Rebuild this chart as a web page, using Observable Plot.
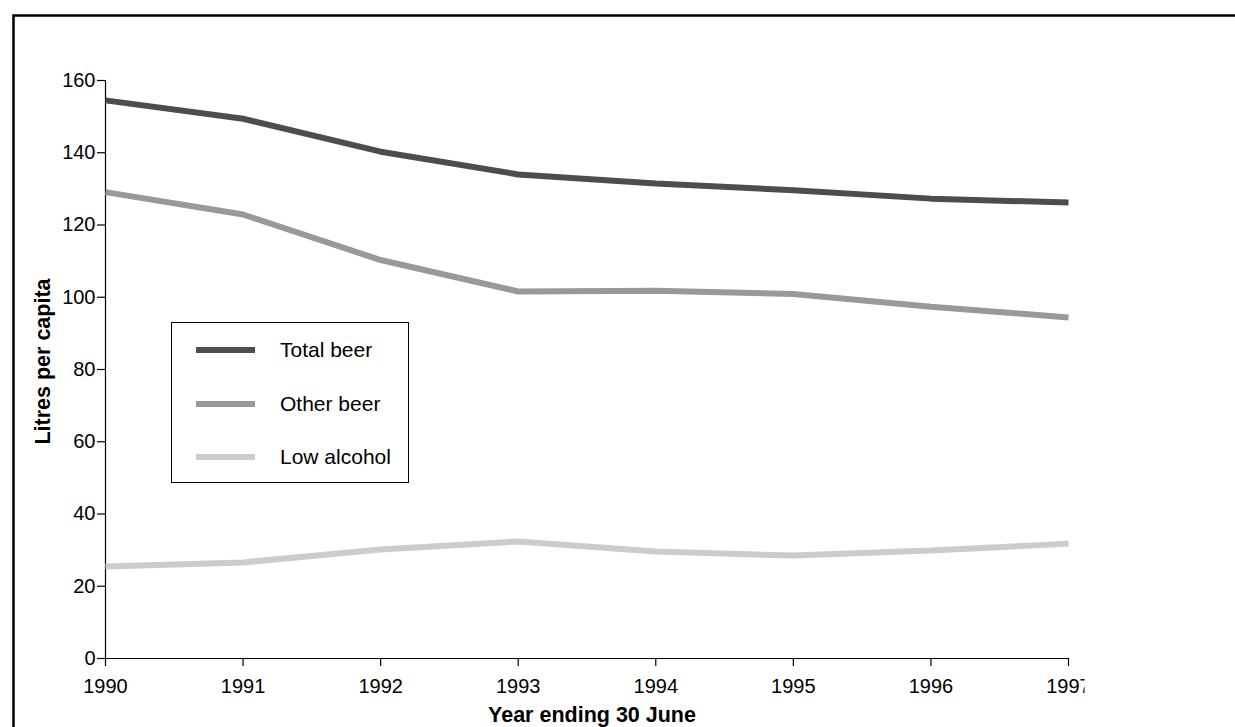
<!DOCTYPE html>
<html>
<head>
<meta charset="utf-8">
<script src="https://cdn.jsdelivr.net/npm/d3@7"></script>
<script src="https://cdn.jsdelivr.net/npm/@observablehq/plot@0.6"></script>
<style>
  html, body { margin: 0; padding: 0; background: #fff; }
  #chart { width: 1235px; height: 727px; overflow: hidden; }
</style>
</head>
<body>
<div id="chart"></div>
<script>
const years = [1990, 1991, 1992, 1993, 1994, 1995, 1996, 1997];
const seriesNames = ["Total beer", "Other beer", "Low alcohol"];
const seriesColors = ["#4d4d4d", "#999999", "#cccccc"];
const totalBeer = [154.5, 149.4, 140.3, 134.0, 131.5, 129.6, 127.3, 126.2];
const otherBeer = [129.1, 122.9, 110.3, 101.6, 101.8, 100.9, 97.4, 94.4];
const lowAlcohol = [25.5, 26.6, 30.2, 32.4, 29.6, 28.5, 29.9, 31.8];
const yTicks = [0, 20, 40, 60, 80, 100, 120, 140, 160];
const xLabel = "Year ending 30 June";
const yLabel = "Litres per capita";

const seriesValues = [totalBeer, otherBeer, lowAlcohol];
const data = [];
seriesNames.forEach((name, i) => {
  years.forEach((yr, j) => data.push({series: name, year: yr, value: seriesValues[i][j]}));
});

const W = 1235, H = 727;
const plot = Plot.plot({
  width: W,
  height: H,
  marginLeft: 105,
  marginRight: 167,
  marginTop: 80,
  marginBottom: 69,
  style: {fontFamily: "'Liberation Sans', Arial, sans-serif", fontSize: "20px", background: "#fff", overflow: "visible"},
  x: {domain: [1990, 1997]},
  y: {domain: [0, 160]},
  color: {domain: seriesNames, range: seriesColors},
  marks: [
    Plot.ruleX([1990], {stroke: "#000", strokeWidth: 1.2}),
    Plot.ruleY([0], {stroke: "#000", strokeWidth: 1.2}),
    Plot.line(data, {x: "year", y: "value", stroke: "series", strokeWidth: 6, strokeLinejoin: "miter", strokeLinecap: "butt", z: "series"}),
    Plot.axisY({ticks: yTicks, tickSize: 8, tickPadding: 2, label: null, tickFormat: d => String(d), fill: "#000", stroke: "#000", strokeWidth: 1.2}),
    Plot.axisX({ticks: years, tickSize: 8, tickPadding: 12, label: null, tickFormat: d => String(d), fill: "#000", stroke: "#000", strokeWidth: 1.2}),
    Plot.text([xLabel], {frameAnchor: "bottom", dy: 63, dx: 5, fontWeight: "bold", fontSize: 21.5, fill: "#000"}),
    Plot.text([yLabel], {frameAnchor: "left", textAnchor: "middle", rotate: -90, dx: -62, dy: -8, fontWeight: "bold", fontSize: 21.5, fill: "#000"})
  ]
});
document.getElementById("chart").appendChild(plot);

const svg = d3.select(plot);
// clip x tick labels as in reference (last label cut)
const defs = svg.append("defs");
defs.append("clipPath").attr("id", "xclip").append("rect").attr("x", 0).attr("y", 0).attr("width", 1084).attr("height", H);
svg.selectAll("g[aria-label='x-axis tick label']").attr("clip-path", "url(#xclip)");

// outer frame
svg.append("rect")
  .attr("x", 13.5).attr("y", 15.5)
  .attr("width", W + 10).attr("height", H + 10)
  .attr("fill", "none").attr("stroke", "#000").attr("stroke-width", 2.5);

// legend
const lg = svg.append("g").attr("font-family", "'Liberation Sans', Arial, sans-serif").attr("font-size", 21).attr("text-anchor", "start");
lg.append("rect").attr("x", 171.5).attr("y", 322.5).attr("width", 237).attr("height", 160)
  .attr("fill", "#fff").attr("stroke", "#000").attr("stroke-width", 1);
const rowY = [350, 404, 457];
seriesNames.forEach((name, i) => {
  lg.append("line").attr("x1", 196).attr("x2", 255).attr("y1", rowY[i]).attr("y2", rowY[i])
    .attr("stroke", seriesColors[i]).attr("stroke-width", 6);
  lg.append("text").attr("x", 280).attr("y", rowY[i]).attr("dy", "0.35em").attr("text-anchor", "start").attr("fill", "#000").text(name);
});
</script>
</body>
</html>
